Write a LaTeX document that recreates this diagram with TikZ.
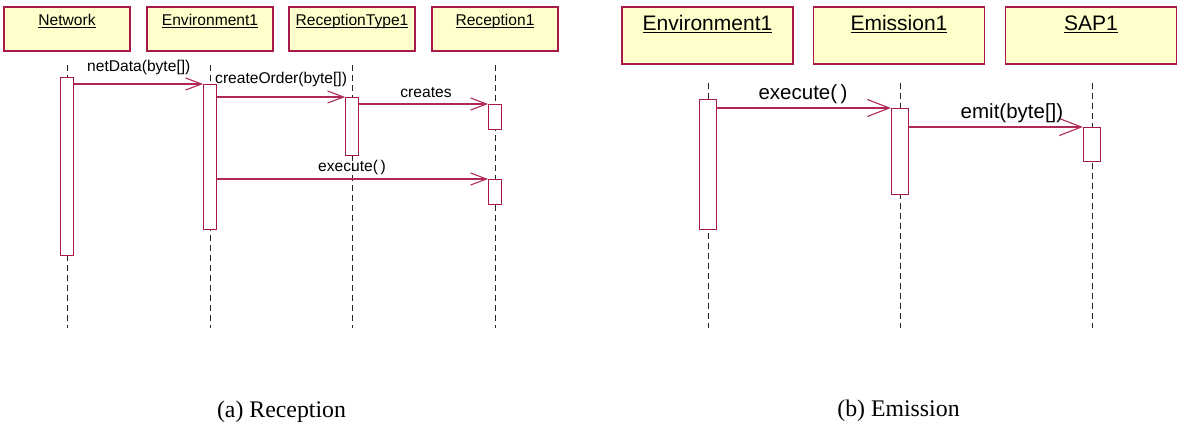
\documentclass[tikz,border=0pt]{standalone}
\usepackage{fontspec}
\setmainfont{Liberation Sans}
\newfontfamily\capfont{Liberation Serif}
\usetikzlibrary{arrows.meta}
\definecolor{objfill}{RGB}{255,255,204}
\definecolor{umlred}{RGB}{168,24,72}
\definecolor{msgred}{RGB}{176,40,88}
% underlined object name with a rule at a fixed depth
\newcommand\uname[2]{\setbox0\hbox{#2}\rlap{\rule[-#1]{\wd0}{0.9pt}}\box0}
\begin{document}
\begin{tikzpicture}[x=1pt,y=-1pt,
  objbox/.style={draw=umlred,fill=objfill,line width=1.2pt,minimum width=126pt,minimum height=44pt,inner sep=0pt},
  objboxB/.style={objbox,minimum width=171pt,minimum height=57pt},
  titleA/.style={anchor=base,inner sep=0pt,font=\fontsize{15.6}{18}\selectfont},
  titleB/.style={anchor=base,inner sep=0pt,font=\fontsize{21}{24}\selectfont},
  life/.style={draw=black!85,line width=1pt,dash pattern=on 6pt off 4pt},
  actA/.style={draw=umlred,fill=white,line width=1.2pt,minimum width=12.5pt,anchor=north,inner sep=0pt},
  actB/.style={actA,minimum width=17pt},
  msgA/.style={draw=msgred,line width=1.1pt,-{Straight Barb[length=16pt,width=12pt]}},
  msgB/.style={draw=msgred,line width=1.1pt,-{Straight Barb[length=22pt,width=17pt]}},
  lblA/.style={anchor=base,inner sep=0pt,font=\fontsize{15.6}{18}\selectfont},
  lblB/.style={anchor=base,inner sep=0pt,font=\fontsize{20.5}{24}\selectfont},
  capt/.style={anchor=base,inner sep=0pt,font=\capfont\fontsize{23.8}{27}\selectfont}]
\useasboundingbox (0,0) rectangle (1179,427);

% ---------- (a) Reception ----------
\node[objbox] (net) at (67,29) {};
\node[objbox] (env) at (210,29) {};
\node[objbox] (rt)  at (352,29) {};
\node[objbox] (rec) at (495,29) {};
\node[titleA] (netT) at (67,26)  {\uname{2pt}{Network}};
\node[titleA] (envT) at (210,26) {\uname{2pt}{Environment1}};
\node[titleA] (rtT)  at (352,26) {\uname{2pt}{ReceptionType1}};
\node[titleA] (recT) at (495,26) {\uname{2pt}{Reception1}};

\coordinate (netL0) at (67,65);  \coordinate (netL1) at (67,328);
\coordinate (envL0) at (210,65); \coordinate (envL1) at (210,328);
\coordinate (rtL0)  at (352,65); \coordinate (rtL1)  at (352,328);
\coordinate (recL0) at (495,65); \coordinate (recL1) at (495,328);
\draw[life] (netL0) -- (netL1);
\draw[life] (envL0) -- (envL1);
\draw[life] (rtL0) -- (rtL1);
\draw[life] (recL0) -- (recL1);

\node[actA,minimum height=178pt] (netA) at (67,77) {};
\node[actA,minimum height=145pt] (envA) at (210,84) {};
\node[actA,minimum height=58pt]  (rtA)  at (352,97) {};
\node[actA,minimum height=25pt]  (recA) at (495,104) {};
\node[actA,minimum height=25pt]  (recB) at (495,179) {};

\draw[msgA] (netA.east |- envA.north) -- (envA.north west);
\draw[msgA] (envA.east |- rtA.north) -- (rtA.north west);
\draw[msgA] (rtA.east |- recA.north) -- (recA.north west);
\draw[msgA] (envA.east |- recB.north) -- (recB.north west);

\node[lblA,anchor=base west] (m1) at (87,72) {netData(byte[])};
\node[lblA,anchor=base west] (m2) at (215,84) {createOrder(byte[])};
\node[lblA] (m3) at (426,98) {creates};
\node[lblA] (m4) at (352,172) {execute(\,)};

\node[capt] (capA) at (281.5,417.5) {(a) Reception};

% ---------- (b) Emission ----------
\node[objboxB] (env2) at (707.5,35.5) {};
\node[objboxB] (emi)  at (899,35.5) {};
\node[objboxB] (sap)  at (1091,35.5) {};
\node[titleB] (env2T) at (707.5,31) {\uname{2.2pt}{Environment1}};
\node[titleB] (emiT)  at (899,31)   {\uname{2.2pt}{Emission1}};
\node[titleB] (sapT)  at (1091,31)  {\uname{2.2pt}{SAP1}};

\coordinate (env2L0) at (708,83);  \coordinate (env2L1) at (708,328);
\coordinate (emiL0)  at (900,83);  \coordinate (emiL1)  at (900,328);
\coordinate (sapL0)  at (1092,83); \coordinate (sapL1)  at (1092,328);
\draw[life] (env2L0) -- (env2L1);
\draw[life] (emiL0) -- (emiL1);
\draw[life] (sapL0) -- (sapL1);

\node[actB,minimum height=130pt] (env2A) at (708,99) {};
\node[actB,minimum height=86pt]  (emiA)  at (900,108) {};
\node[actB,minimum height=34pt]  (sapA)  at (1092,127) {};

\draw[msgB] (env2A.east |- emiA.north) -- (emiA.north west);
\draw[msgB] (emiA.east |- sapA.north) -- (sapA.north west);

\node[lblB] (m5) at (803,100) {execute(\,)};
\node[lblB] (m6) at (1012,119) {emit(byte[])};

\node[capt] (capB) at (898.5,417) {(b) Emission};
\end{tikzpicture}
\end{document}
